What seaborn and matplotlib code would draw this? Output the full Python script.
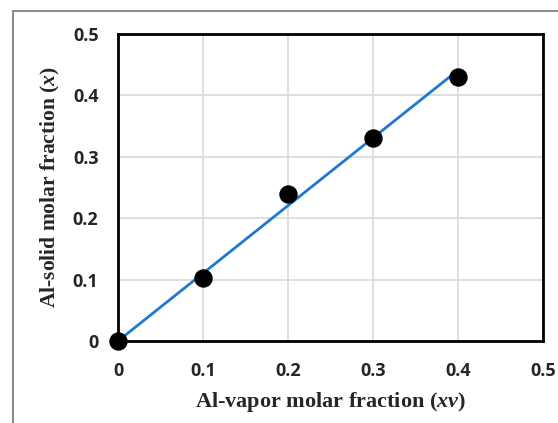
import numpy as np
import pandas as pd
import matplotlib
matplotlib.use("Agg")
import matplotlib.pyplot as plt
import seaborn as sns
from matplotlib.patches import Rectangle
from matplotlib.ticker import MultipleLocator, FixedLocator

# data
vapor_x = [0.0, 0.1, 0.2, 0.3, 0.4]
solid_x = [0.0, 0.102, 0.239, 0.331, 0.430]
fit_x = [0.0, 0.4]
fit_y = [0.0, 0.441]
ticks = [0, 0.1, 0.2, 0.3, 0.4, 0.5]
tick_labels = ["0", "0.1", "0.2", "0.3", "0.4", "0.5"]

sns.set_style("white")
plt.rcParams["font.family"] = ["Open Sans", "DejaVu Sans"]
plt.rcParams["mathtext.fontset"] = "custom"
plt.rcParams["mathtext.it"] = "Liberation Serif:italic:bold"
plt.rcParams["mathtext.rm"] = "Liberation Serif:bold"
plt.rcParams["mathtext.bf"] = "Liberation Serif:italic:bold"

df = pd.DataFrame({"xv": vapor_x, "x": solid_x})
fit = pd.DataFrame({"xv": fit_x, "x": fit_y})

fig = plt.figure(figsize=(5.58, 4.23), dpi=100)
ax = fig.add_axes([118 / 558, 1 - 341 / 423, (543 - 118) / 558, (341 - 34) / 423])

sns.lineplot(data=fit, x="xv", y="x", ax=ax, color="#1f78d1", linewidth=2, zorder=3)
sns.scatterplot(data=df, x="xv", y="x", ax=ax, color="black", s=150,
                edgecolor="black", zorder=4, clip_on=False)

ax.set_xlim(0, 0.5)
ax.set_ylim(0, 0.5)
ax.xaxis.set_major_locator(FixedLocator(ticks))
ax.yaxis.set_major_locator(FixedLocator(ticks))
ax.set_xticklabels(tick_labels)
ax.set_yticklabels(tick_labels)
ax.xaxis.set_minor_locator(MultipleLocator(0.02))
ax.yaxis.set_minor_locator(MultipleLocator(0.02))
ax.tick_params(which="both", direction="in", color="black", width=1.2)
ax.tick_params(which="major", length=6, labelsize=13)
ax.tick_params(which="minor", length=5)
ax.tick_params(axis="x", pad=15)
ax.tick_params(axis="y", pad=14)
for lab in ax.get_xticklabels() + ax.get_yticklabels():
    lab.set_fontweight("bold")
ax.grid(True, which="major", color="#d9d9d9", linewidth=1.2)
ax.set_axisbelow(True)
for sp in ax.spines.values():
    sp.set_color("black")
    sp.set_linewidth(2)

serif = ["Liberation Serif", "DejaVu Serif"]
ax.set_xlabel(r"Al-vapor molar fraction ($\mathit{xv}$)", family=serif,
              fontsize=16, fontweight="bold", labelpad=7)
ax.set_ylabel(r"Al-solid molar fraction ($\mathit{x}$)", family=serif,
              fontsize=15.5, fontweight="bold", labelpad=8)

fig.patches.append(Rectangle((13 / 558, -0.1), 1.2, 1 - 11 / 423 + 0.1,
                             transform=fig.transFigure, fill=False,
                             edgecolor="#8c8c8c", linewidth=1.5))

fig.savefig("out.png", dpi=100)
